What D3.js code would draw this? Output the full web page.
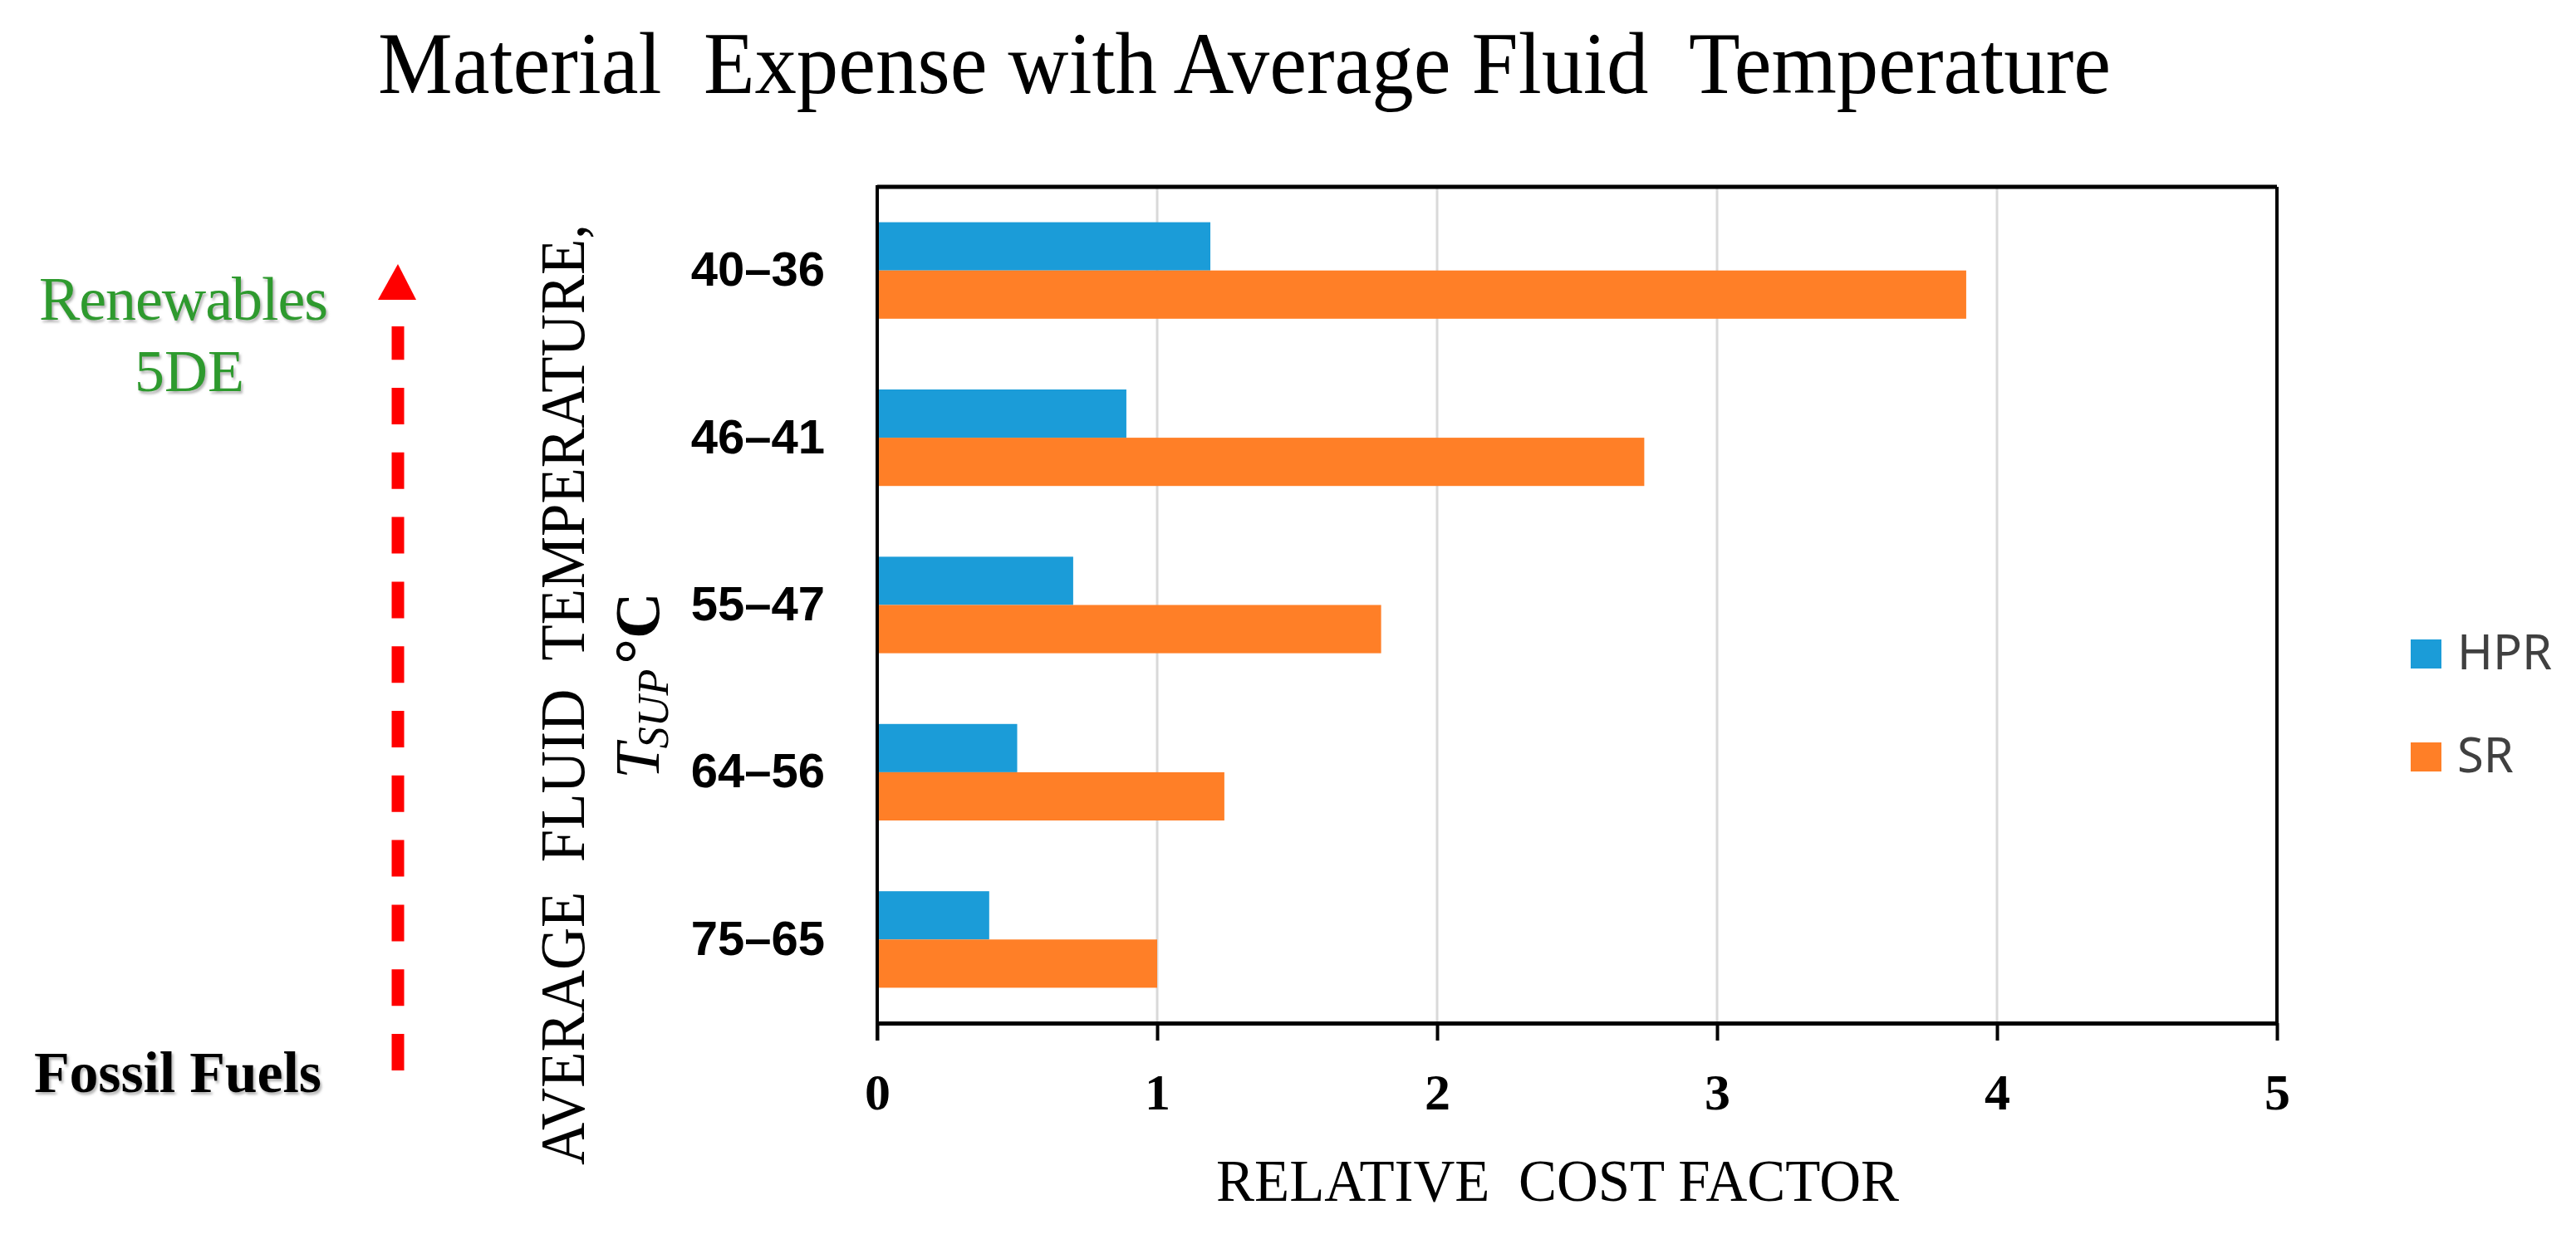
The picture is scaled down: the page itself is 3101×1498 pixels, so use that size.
<!DOCTYPE html>
<html>
<head>
<meta charset="utf-8">
<script src="https://cdn.jsdelivr.net/npm/d3@7"></script>
<style>
  body { margin: 0; background: #fff; }
  svg { display: block; }
</style>
</head>
<body>
<svg id="chart" width="3101" height="1498"></svg>
<script>
// data
const categories = ["40\u201336", "46\u201341", "55\u201347", "64\u201356", "75\u201365"];
const seriesNames = ["HPR", "SR"];
const hprValues = [1.19, 0.89, 0.70, 0.50, 0.40];
const srValues = [3.89, 2.74, 1.80, 1.24, 1.00];
const xTicks = [0, 1, 2, 3, 4, 5];

const colors = { HPR: "#1B9CD8", SR: "#FF7F27" };

const svg = d3.select("#chart");
const serif = "'Liberation Serif', 'Times New Roman', serif";
const sans = "'Liberation Sans', Arial, sans-serif";

// plot box
const plot = { left: 1056, right: 2741, top: 225, bottom: 1232 };

const x = d3.scaleLinear().domain([0, 5]).range([plot.left, plot.right]);
const y = d3.scaleBand().domain(categories)
    .range([plot.top, plot.bottom])
    .paddingInner(0.423)
    .paddingOuter(0.2115);
const ySub = d3.scaleBand().domain(seriesNames).range([0, y.bandwidth()]);

const rows = categories.map((c, i) => ({ cat: c, HPR: hprValues[i], SR: srValues[i] }));

// shadow filter for the side notes
const defs = svg.append("defs");
const f = defs.append("filter").attr("id", "shadow")
    .attr("x", "-10%").attr("y", "-20%").attr("width", "130%").attr("height", "160%");
f.append("feDropShadow").attr("dx", 2).attr("dy", 3).attr("stdDeviation", 1.5)
    .attr("flood-color", "#777").attr("flood-opacity", 0.55);

// title
svg.append("text")
    .attr("x", 455).attr("y", 112)
    .attr("textLength", 2086).attr("lengthAdjust", "spacingAndGlyphs")
    .style("font-family", serif).style("font-size", "106px")
    .style("white-space", "pre")
    .text("Material  Expense with Average Fluid  Temperature");

// gridlines
svg.append("g").selectAll("line")
    .data(xTicks.filter(d => d > 0 && d < 5))
    .enter().append("line")
    .attr("x1", d => x(d)).attr("x2", d => x(d))
    .attr("y1", plot.top).attr("y2", plot.bottom)
    .attr("stroke", "#D9D9D9").attr("stroke-width", 3);

// bars
const groups = svg.append("g").selectAll("g")
    .data(rows).enter().append("g")
    .attr("transform", d => `translate(0,${y(d.cat)})`);

groups.selectAll("rect")
    .data(d => seriesNames.map(s => ({ key: s, value: d[s] })))
    .enter().append("rect")
    .attr("x", x(0))
    .attr("y", d => ySub(d.key))
    .attr("width", d => x(d.value) - x(0))
    .attr("height", ySub.bandwidth())
    .attr("fill", d => colors[d.key]);

// frame: top, left, right
svg.append("line").attr("x1", plot.left).attr("x2", plot.right)
    .attr("y1", plot.top).attr("y2", plot.top)
    .attr("stroke", "#000").attr("stroke-width", 5);
svg.append("line").attr("x1", plot.right).attr("x2", plot.right)
    .attr("y1", plot.top).attr("y2", plot.bottom)
    .attr("stroke", "#000").attr("stroke-width", 4);

// x axis
const xAxis = svg.append("g")
    .attr("transform", `translate(0,${plot.bottom})`)
    .call(d3.axisBottom(x).tickValues(xTicks).tickSize(21).tickSizeOuter(0).tickFormat(d3.format("d")));
xAxis.select(".domain").attr("stroke", "#000").attr("stroke-width", 5);
xAxis.selectAll(".tick line").attr("stroke", "#000").attr("stroke-width", 4);
xAxis.selectAll(".tick text")
    .attr("y", 104).attr("dy", 0)
    .style("font-family", serif).style("font-weight", "bold").style("font-size", "62px")
    .attr("fill", "#000");

// y axis (category labels)
const yAxis = svg.append("g")
    .attr("transform", `translate(${plot.left},0)`)
    .call(d3.axisLeft(y).tickSize(0).tickPadding(63));
yAxis.select(".domain").attr("stroke", "#000").attr("stroke-width", 4)
    .attr("d", `M0,${plot.top - 2}V${plot.bottom + 21}`);
yAxis.selectAll(".tick text")
    .style("font-family", sans).style("font-weight", "bold").style("font-size", "58px")
    .attr("fill", "#000");

// x axis title
svg.append("text")
    .attr("x", 1464).attr("y", 1446)
    .attr("textLength", 822).attr("lengthAdjust", "spacingAndGlyphs")
    .style("font-family", serif).style("font-size", "72px")
    .style("white-space", "pre")
    .text("RELATIVE  COST FACTOR");

// y axis title, two rotated lines
svg.append("text")
    .attr("transform", "translate(703,1403) rotate(-90)")
    .attr("textLength", 1133).attr("lengthAdjust", "spacingAndGlyphs")
    .style("font-family", serif).style("font-size", "77px")
    .style("white-space", "pre")
    .text("AVERAGE  FLUID  TEMPERATURE,");

const t2 = svg.append("text")
    .attr("transform", "translate(793,938) rotate(-90)")
    .style("font-family", serif).style("font-size", "77px");
t2.append("tspan").style("font-style", "italic").text("T");
t2.append("tspan").style("font-style", "italic").style("font-size", "52px")
    .attr("dx", -6).attr("dy", 11).text("SUP");
t2.append("tspan").style("font-weight", "bold")
    .attr("dx", 6).attr("dy", -11).text("\u00B0C");

// legend
const legend = svg.append("g");
const legendY = { HPR: 787, SR: 911 };
seriesNames.forEach(s => {
    legend.append("rect")
        .attr("x", 2902).attr("y", legendY[s] - 17)
        .attr("width", 37).attr("height", 35)
        .attr("fill", colors[s]);
    legend.append("text")
        .attr("x", 2958).attr("y", legendY[s] + 19)
        .style("font-family", "'Noto Sans', 'Open Sans', sans-serif").style("font-size", "58px")
        .attr("fill", "#404040")
        .text(s);
});

// side notes and the dashed arrow
svg.append("text")
    .attr("x", 47).attr("y", 385)
    .attr("textLength", 348).attr("lengthAdjust", "spacing")
    .attr("filter", "url(#shadow)")
    .style("font-family", serif).style("font-size", "74px")
    .attr("fill", "#2E9A2E")
    .text("Renewables");
svg.append("text")
    .attr("x", 228).attr("y", 471)
    .attr("text-anchor", "middle")
    .attr("filter", "url(#shadow)")
    .style("font-family", serif).style("font-size", "72px")
    .attr("fill", "#2E9A2E")
    .text("5DE");
svg.append("text")
    .attr("x", 41).attr("y", 1315)
    .attr("textLength", 346).attr("lengthAdjust", "spacing")
    .attr("filter", "url(#shadow)")
    .style("font-family", serif).style("font-size", "70px").style("font-weight", "bold")
    .attr("fill", "#000")
    .text("Fossil Fuels");

svg.append("line")
    .attr("x1", 479).attr("x2", 479)
    .attr("y1", 1289).attr("y2", 393)
    .attr("stroke", "#FF0000").attr("stroke-width", 15)
    .attr("stroke-dasharray", "44 33.8");
svg.append("path")
    .attr("d", "M455,361 L479,318 L501,361 Z")
    .attr("fill", "#FF0000");
</script>
</body>
</html>
